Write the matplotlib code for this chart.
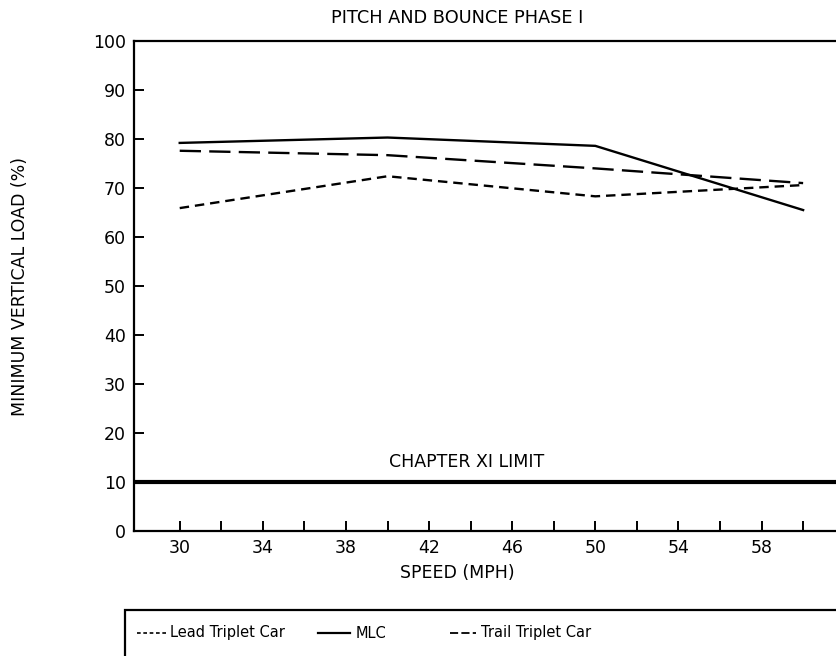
import matplotlib
matplotlib.use("Agg")
import matplotlib.pyplot as plt
from matplotlib.lines import Line2D
from matplotlib.patches import Rectangle

# Speeds tested (mph) and minimum vertical load (%) per vehicle
speed = [30, 40, 50, 60]
lead_triplet = [65.9, 72.4, 68.3, 70.6]
mlc = [79.2, 80.3, 78.6, 65.5]
trail_triplet = [77.6, 76.7, 74.0, 71.0]
chapter_limit = 10

x_ticks = list(range(30, 62, 2))
x_labels = [str(t) if (t - 30) % 4 == 0 and t <= 58 else "" for t in x_ticks]
y_ticks = list(range(0, 101, 10))

W, H = 836, 656
fig = plt.figure(figsize=(W / 100, H / 100), dpi=100)
plt.rcParams["font.family"] = ["DejaVu Sans"]
FS = 12.5


def fx(px):
    return px / W


def fy(py):
    return 1 - py / H


ax = fig.add_axes([fx(134), fy(531), fx(853 - 134), (531 - 41) / H])
ax.set_xlim(27.8, 62.4)
ax.set_ylim(0, 100)

lead_style = dict(color="black", lw=1.7, dashes=(4, 2.5))
mlc_style = dict(color="black", lw=1.7, linestyle="-")
trail_style = dict(color="black", lw=1.7, dashes=(9, 3.5))

ax.plot(speed, lead_triplet, **lead_style)
ax.plot(speed, mlc, **mlc_style)
ax.plot(speed, trail_triplet, **trail_style)

ax.axhline(chapter_limit, color="black", lw=3.0)
ax.text(43.8, 14.0, "CHAPTER XI LIMIT", ha="center", va="center", fontsize=FS)

ax.set_xticks(x_ticks)
ax.set_xticklabels(x_labels)
ax.set_yticks(y_ticks)
ax.tick_params(direction="in", length=7, width=1.4, labelsize=FS, pad=6)
for s in ax.spines.values():
    s.set_linewidth(1.6)
ax.spines["right"].set_visible(False)

fig.text(fx(457), fy(18), "PITCH AND BOUNCE PHASE I", ha="center", va="center", fontsize=FS + 0.3)
fig.text(fx(457), fy(573), "SPEED (MPH)", ha="center", va="center", fontsize=FS)
fig.text(fx(20), fy(286), "MINIMUM VERTICAL LOAD (%)", ha="center", va="center",
         rotation=90, fontsize=FS)

# Legend box running off the lower-right edge
fig.add_artist(Rectangle((fx(125), fy(700)), fx(800), (700 - 610) / H,
                         transform=fig.transFigure, fill=False, lw=1.6, ec="black"))
ly = fy(633)
entries = [
    (137, 166, 170, "Lead Triplet Car", dict(color="black", lw=1.2, dashes=(2.2, 1.6))),
    (318, 350, 356, "MLC", dict(color="black", lw=1.6, linestyle="-")),
    (450, 476, 481, "Trail Triplet Car", dict(color="black", lw=1.3, dashes=(4.5, 1.8))),
]
for x0, x1, xt, label, style in entries:
    fig.add_artist(Line2D([fx(x0), fx(x1)], [ly, ly], transform=fig.transFigure, **style))
    fig.text(fx(xt), ly, label, ha="left", va="center", fontsize=10.5)

fig.savefig("out.png", dpi=100)
